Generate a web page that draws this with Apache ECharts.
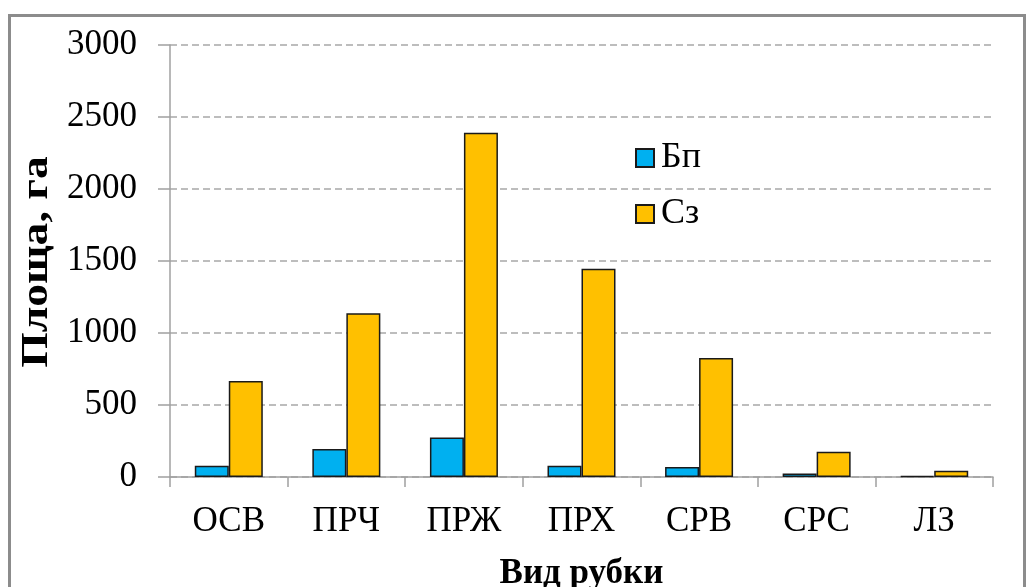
<!DOCTYPE html>
<html>
<head>
<meta charset="utf-8">
<script src="https://cdn.jsdelivr.net/npm/echarts@6/dist/echarts.min.js"></script>
<style>
  html, body { margin: 0; padding: 0; background: #fff; }
  #chart { width: 1029px; height: 587px; }
</style>
</head>
<body>
<div id="chart"></div>
<script>
// Cutting types and cleared area by felling class
const categories = ['ОСВ', 'ПРЧ', 'ПРЖ', 'ПРХ', 'СРВ', 'СРС', 'ЛЗ'];
const seriesNames = ['Бп', 'Сз'];
const valuesBp = [78, 194, 275, 78, 70, 25, 7];
const valuesSz = [666, 1138, 2391, 1446, 826, 176, 44];
const yTicks = { min: 0, max: 3000, interval: 500 };
const yTitle = 'Площа, га';
const xTitle = 'Вид рубки';

const serif = '"Liberation Serif", "DejaVu Serif", serif';
const axisGray = '#a0a0a0';

const chart = echarts.init(document.getElementById('chart'), null, { renderer: 'canvas' });

chart.setOption({
  animation: false,
  backgroundColor: '#ffffff',
  graphic: [
    {
      // outer frame
      type: 'rect',
      shape: { x: 9.5, y: 15.5, width: 1015, height: 600 },
      style: { fill: 'none', stroke: '#8c8c8c', lineWidth: 3 },
      silent: true
    },
    {
      // vertical axis title, set slightly elongated
      type: 'text',
      x: 37,
      y: 262,
      rotation: Math.PI / 2,
      scaleX: 1.2,
      style: {
        text: yTitle,
        font: 'bold 38px ' + serif,
        fill: '#000',
        align: 'center',
        verticalAlign: 'middle'
      },
      silent: true
    }
  ],
  grid: { left: 170, right: 36, top: 45, bottom: 110, outerBoundsMode: 'none', containLabel: false },
  legend: {
    orient: 'vertical',
    left: 630,
    top: 135,
    itemWidth: 18,
    itemHeight: 18,
    itemGap: 20,
    icon: 'rect',
    textStyle: { fontFamily: serif, fontSize: 36, color: '#000', padding: [0, 0, 0, 2] },
    data: seriesNames
  },
  xAxis: {
    type: 'category',
    data: categories,
    name: xTitle,
    nameLocation: 'middle',
    nameGap: 79,
    nameTextStyle: { fontFamily: serif, fontSize: 35, fontWeight: 'bold', color: '#000' },
    axisLine: { lineStyle: { color: axisGray, width: 1.5 } },
    axisTick: { show: true, alignWithLabel: false, length: 10, lineStyle: { color: axisGray, width: 1.5 } },
    axisLabel: { fontFamily: serif, fontSize: 35, color: '#000', margin: 27 }
  },
  yAxis: {
    type: 'value',
    min: yTicks.min,
    max: yTicks.max,
    interval: yTicks.interval,
    axisLine: { show: true, lineStyle: { color: axisGray, width: 1.5 } },
    axisTick: { show: true, inside: false, length: 12, lineStyle: { color: axisGray, width: 1.5 } },
    axisLabel: {
      fontFamily: serif, fontSize: 35, color: '#000', margin: 33,
      formatter: v => String(v)
    },
    splitLine: { show: true, lineStyle: { color: '#a8a8a8', type: [7, 4], width: 1.5 } }
  },
  series: [
    {
      name: seriesNames[0],
      type: 'bar',
      data: valuesBp,
      barWidth: 34,
      barGap: '0%',
      itemStyle: { color: '#00b0f0', borderColor: '#1a1a1a', borderWidth: 1.5 }
    },
    {
      name: seriesNames[1],
      type: 'bar',
      data: valuesSz,
      barWidth: 34,
      barGap: '0%',
      itemStyle: { color: '#ffc000', borderColor: '#1a1a1a', borderWidth: 1.5 }
    }
  ]
});
</script>
</body>
</html>
